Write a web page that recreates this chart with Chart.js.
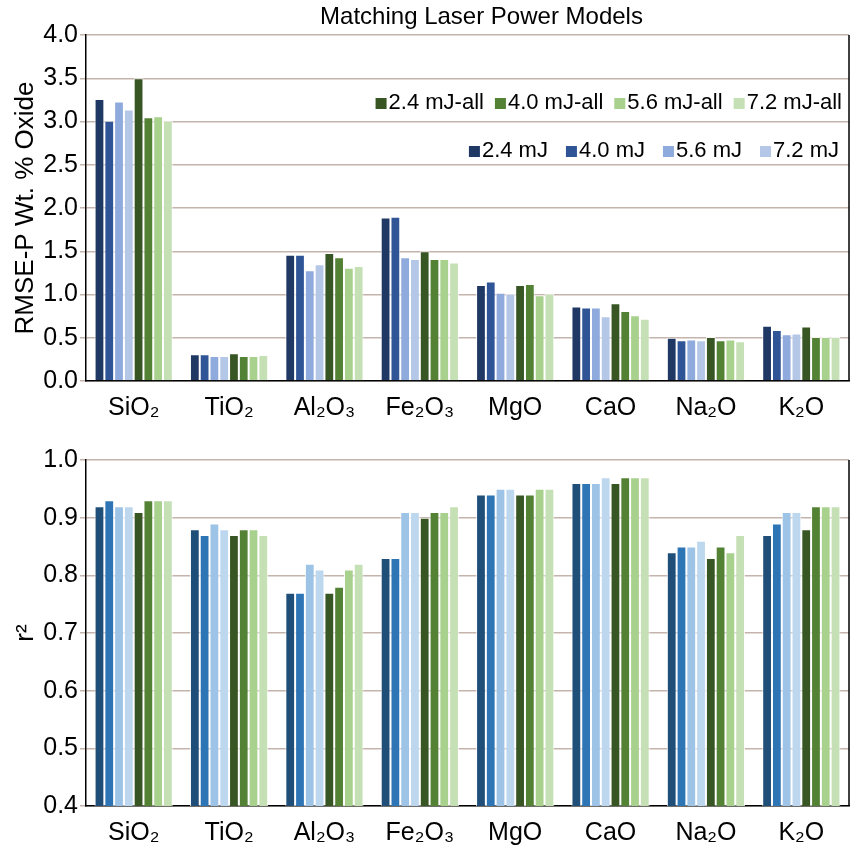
<!DOCTYPE html>
<html>
<head>
<meta charset="utf-8">
<script src="https://cdn.jsdelivr.net/npm/chart.js@4.4.1/dist/chart.umd.min.js"></script>
<style>
  html, body { margin: 0; padding: 0; background: #fff; }
  #wrap { position: relative; width: 851px; height: 847px; }
  #topBox { position: absolute; left: 0; top: 0; }
  #bottomBox { position: absolute; left: 0; top: 425px; }
</style>
</head>
<body>
<div id="wrap">
  <div id="topBox"><canvas id="rmseChart" width="851" height="425"></canvas></div>
  <div id="bottomBox"><canvas id="r2Chart" width="851" height="422"></canvas></div>
</div>
<script>
const oxides = ["SiO₂", "TiO₂", "Al₂O₃", "Fe₂O₃", "MgO", "CaO", "Na₂O", "K₂O"];
const seriesLabels = ["2.4 mJ", "4.0 mJ", "5.6 mJ", "7.2 mJ",
                      "2.4 mJ-all", "4.0 mJ-all", "5.6 mJ-all", "7.2 mJ-all"];

// RMSE-P (wt. % oxide)
const rmse24    = [3.26, 0.31, 1.46, 1.89, 1.11, 0.86, 0.50, 0.64];
const rmse40    = [3.01, 0.31, 1.46, 1.90, 1.15, 0.85, 0.47, 0.59];
const rmse56    = [3.23, 0.29, 1.28, 1.43, 1.02, 0.85, 0.48, 0.54];
const rmse72    = [3.14, 0.29, 1.35, 1.41, 1.01, 0.75, 0.47, 0.55];
const rmse24All = [3.50, 0.32, 1.48, 1.50, 1.11, 0.90, 0.51, 0.63];
const rmse40All = [3.05, 0.29, 1.43, 1.41, 1.12, 0.81, 0.47, 0.51];
const rmse56All = [3.06, 0.29, 1.31, 1.41, 0.99, 0.76, 0.48, 0.51];
const rmse72All = [3.01, 0.30, 1.33, 1.37, 1.01, 0.72, 0.46, 0.51];

// r²
const r2_24    = [0.92, 0.88, 0.77, 0.83, 0.94, 0.96, 0.84, 0.87];
const r2_40    = [0.93, 0.87, 0.77, 0.83, 0.94, 0.96, 0.85, 0.89];
const r2_56    = [0.92, 0.89, 0.82, 0.91, 0.95, 0.96, 0.85, 0.91];
const r2_72    = [0.92, 0.88, 0.81, 0.91, 0.95, 0.97, 0.86, 0.91];
const r2_24All = [0.91, 0.87, 0.77, 0.90, 0.94, 0.96, 0.83, 0.88];
const r2_40All = [0.93, 0.88, 0.78, 0.91, 0.94, 0.97, 0.85, 0.92];
const r2_56All = [0.93, 0.88, 0.81, 0.91, 0.95, 0.97, 0.84, 0.92];
const r2_72All = [0.93, 0.87, 0.82, 0.92, 0.95, 0.97, 0.87, 0.92];

const rmseTicks = { min: 0, max: 4, step: 0.5 };
const r2Ticks = { min: 0.4, max: 1.0, step: 0.1 };

const rmseColors = ["#203864", "#2F5597", "#8FAADC", "#B4C7E7",
                    "#375623", "#548235", "#A9D18E", "#C5E0B4"];
const r2Colors   = ["#1F4E79", "#2E75B6", "#9DC3E6", "#BDD7EE",
                    "#375623", "#548235", "#A9D18E", "#C5E0B4"];

const FONT = "'Liberation Sans', Arial, sans-serif";
const GRID = "#C4B4AC";

Chart.defaults.font.family = FONT;
Chart.defaults.color = "#000";

function makeDatasets(series, colors) {
  return series.map((data, i) => ({
    label: seriesLabels[i],
    data: data,
    backgroundColor: colors[i],
    borderColor: "rgba(255,255,255,0.85)",
    borderWidth: 1,
    barPercentage: 1.0,
    categoryPercentage: 0.82
  }));
}

// right-hand frame line of the plot area
const frameRight = {
  id: "frameRight",
  afterDatasetsDraw(chart) {
    const { ctx, chartArea } = chart;
    ctx.save();
    ctx.strokeStyle = "#000";
    ctx.lineWidth = 1.5;
    ctx.beginPath();
    ctx.moveTo(chartArea.right, chartArea.top);
    ctx.lineTo(chartArea.right, chartArea.bottom);
    ctx.stroke();
    ctx.restore();
  }
};

// title centred over the plot area
const plotTitle = {
  id: "plotTitle",
  afterDraw(chart, args, opts) {
    if (!opts.text) return;
    const { ctx, chartArea } = chart;
    ctx.save();
    ctx.font = "24px " + FONT;
    ctx.fillStyle = "#000";
    ctx.textAlign = "center";
    ctx.textBaseline = "middle";
    ctx.fillText(opts.text, (chartArea.left + chartArea.right) / 2 + (opts.shift || 0), opts.y);
    ctx.restore();
  }
};

// two right-aligned legend rows inside the plot area
const rowLegend = {
  id: "rowLegend",
  afterDatasetsDraw(chart, args, opts) {
    if (!opts.rows) return;
    const { ctx, chartArea } = chart;
    const sets = chart.data.datasets;
    ctx.save();
    ctx.font = "22px " + FONT;
    ctx.textBaseline = "middle";
    opts.rows.forEach((row) => {
      let x = chartArea.right - row.inset;
      for (let k = row.items.length - 1; k >= 0; k--) {
        const ds = sets[row.items[k]];
        const w = ctx.measureText(ds.label).width;
        ctx.fillStyle = "#000";
        ctx.textAlign = "left";
        ctx.fillText(ds.label, x - w, row.y);
        x -= w + 2;
        ctx.fillStyle = ds.backgroundColor;
        ctx.fillRect(x - 11, row.y - 5, 11, 11);
        x -= 11 + row.gap;
      }
    });
    ctx.restore();
  }
};

function makeChart(id, series, colors, range, yTitle, axisHeight, extra) {
  return new Chart(document.getElementById(id), {
    type: "bar",
    data: { labels: oxides, datasets: makeDatasets(series, colors) },
    plugins: [frameRight, plotTitle, rowLegend],
    options: {
      responsive: false,
      animation: false,
      devicePixelRatio: 1,
      layout: { padding: { top: 35, right: 2, left: 0, bottom: 0 } },
      plugins: {
        legend: { display: false },
        tooltip: { enabled: false },
        plotTitle: extra.title || {},
        rowLegend: extra.legend || {}
      },
      scales: {
        x: {
          grid: { drawOnChartArea: false, drawTicks: false },
          border: { display: true, color: "#000", width: 1.5 },
          ticks: { font: { size: 25 }, color: "#000", padding: 12, maxRotation: 0 },
          afterFit(scale) { scale.height = axisHeight; }
        },
        y: {
          min: range.min,
          max: range.max,
          grid: { color: GRID, lineWidth: 1.5, tickColor: GRID, tickLength: 6 },
          border: { display: true, color: "#000", width: 1.5 },
          ticks: {
            stepSize: range.step,
            font: { size: 25 },
            color: "#000",
            padding: 2,
            callback: (v) => Number(v).toFixed(1)
          },
          title: {
            display: true,
            text: yTitle,
            font: { size: 26 },
            color: "#000",
            padding: { top: 10, bottom: 0 }
          },
          afterFit(scale) { scale.width = 86; }
        }
      }
    }
  });
}

makeChart("rmseChart",
  [rmse24, rmse40, rmse56, rmse72, rmse24All, rmse40All, rmse56All, rmse72All],
  rmseColors, rmseTicks, "RMSE-P Wt. % Oxide", 44,
  {
    title: { text: "Matching Laser Power Models", y: 17, shift: 14 },
    legend: { rows: [ { items: [4, 5, 6, 7], y: 103, gap: 11, inset: 7 },
                      { items: [0, 1, 2, 3], y: 151, gap: 18, inset: 10 } ] }
  });

makeChart("r2Chart",
  [r2_24, r2_40, r2_56, r2_72, r2_24All, r2_40All, r2_56All, r2_72All],
  r2Colors, r2Ticks, "r²", 41, {});
</script>
</body>
</html>
